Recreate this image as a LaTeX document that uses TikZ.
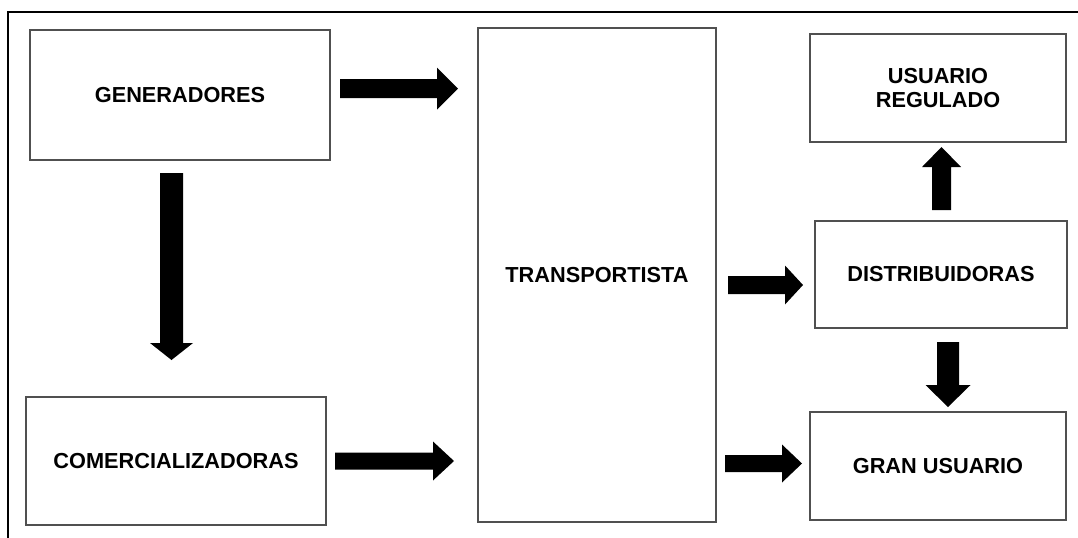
\documentclass[tikz,border=0pt]{standalone}
\usepackage{fontspec}
\setmainfont{Liberation Sans}
\definecolor{boxgray}{HTML}{505050}
\newcommand{\harrow}[6]{%
  \fill (#1,#4-#5) -- (#2,#4-#5) -- (#2,#4-#6) -- (#3,#4) -- (#2,#4+#6) -- (#2,#4+#5) -- (#1,#4+#5) -- cycle;}
\newcommand{\varrow}[6]{%
  \fill (#1-#5,#2) -- (#1-#5,#3) -- (#1-#6,#3) -- (#1,#4) -- (#1+#6,#3) -- (#1+#5,#3) -- (#1+#5,#2) -- cycle;}
\begin{document}
\begin{tikzpicture}[x=0.75pt,y=-0.75pt,
  box/.style={draw=boxgray, line width=1.2pt, inner sep=0pt, outer sep=0pt,
    align=center, font=\fontsize{16.3}{18}\selectfont\bfseries}]
\useasboundingbox (0,0) rectangle (1078,537);
\fill[white] (0,0) rectangle (1078,537);
% outer frame
\draw[line width=1.5pt] (8,540) -- (8,12) -- (1080,12);
% boxes
\node[box, minimum width=225pt, minimum height=97.5pt] (gen) at (180,95) {GENERADORES};
\node[box, minimum width=225pt, minimum height=96pt] (com) at (176,461) {COMERCIALIZADORAS};
\node[box, minimum width=178.5pt, minimum height=370.5pt] (trans) at (597,275) {TRANSPORTISTA};
\node[box, minimum width=192pt, minimum height=81pt] (ur) at (938,88) {USUARIO\\REGULADO};
\node[box, minimum width=189pt, minimum height=80.25pt] (dist) at (941,274.5) {DISTRIBUIDORAS};
\node[box, minimum width=192pt, minimum height=81pt] (gran) at (938,466) {GRAN USUARIO};
% block arrows
\harrow{340}{437}{458}{88.5}{9.5}{21}
\varrow{171.5}{173}{343}{360}{11.5}{21.5}
\harrow{335}{433}{454}{461}{8.5}{19.5}
\harrow{728}{785}{803}{285}{9}{19.5}
\harrow{725}{782}{802}{463.5}{8.5}{19}
\varrow{941.5}{210}{167}{147}{9.5}{19.5}
\varrow{948}{342}{385}{407}{11}{22.5}
\end{tikzpicture}
\end{document}
